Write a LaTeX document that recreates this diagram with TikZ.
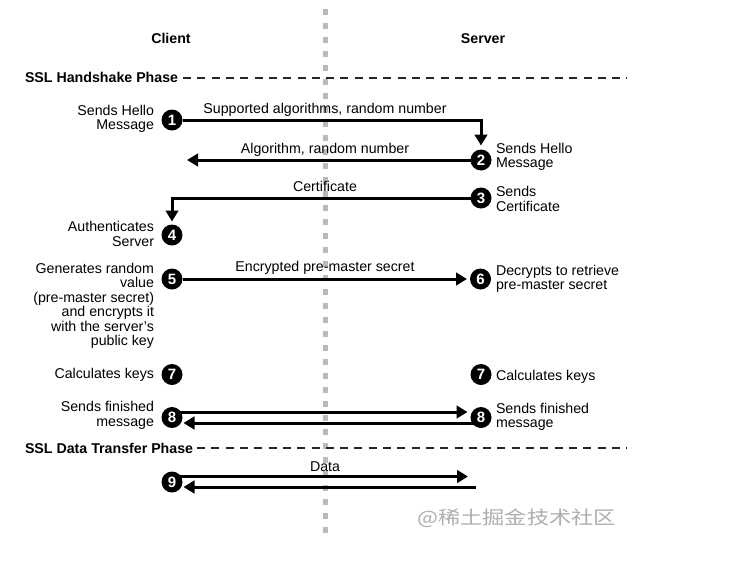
\documentclass[tikz,border=0pt]{standalone}
\usepackage{fontspec}
\setmainfont{Liberation Sans}
\newfontfamily\cjk{Noto Sans CJK SC}
\usetikzlibrary{arrows.meta,backgrounds}
\begin{document}
\begin{tikzpicture}[x=1pt,y=-1pt,
  num/.style={circle,fill=black,text=white,minimum size=21pt,inner sep=0pt,outer sep=0pt,
    font=\fontsize{15}{15}\selectfont\bfseries},
  txt/.style={inner sep=0pt,outer sep=0pt,font=\fontsize{14.2}{14.4}\selectfont},
  lt/.style={txt,align=right,anchor=north east},
  rt/.style={txt,align=left,anchor=north west},
  lbl/.style={txt,anchor=north},
  hdr/.style={inner sep=0pt,outer sep=0pt,font=\fontsize{14.2}{14.4}\selectfont\bfseries},
  arr/.style={line width=3pt,-{Triangle[length=11pt,width=12.5pt]}},
  phase/.style={line width=1.6pt,color=black!85,dash pattern=on 8pt off 6.3pt},
  axisline/.style={line width=5pt,color=black!27,dash pattern=on 6pt off 8pt}]
\useasboundingbox (0,0) rectangle (741,565);

% headers
\node[hdr,anchor=north] (client) at (171,33.3) {Client};
\node[hdr,anchor=north] (server) at (483,33.3) {Server};
\node[hdr,anchor=north west] (ph1) at (25,72.7) {SSL Handshake Phase};
\node[hdr,anchor=north west] (ph2) at (25,443) {SSL Data Transfer Phase};
\coordinate (pend) at (627,0);
\coordinate (axtop) at (325,9);
\coordinate (axbot) at (325,538);

% step circles
\node[num] (c1) at (172,120) {1};
\node[num] (c2) at (481,160) {2};
\node[num] (c3) at (481,198) {3};
\node[num] (c4) at (172,235) {4};
\node[num] (c5) at (172,279) {5};
\node[num] (c6) at (480.5,279) {6};
\node[num] (c7l) at (172,374.5) {7};
\node[num] (c7r) at (481,374.5) {7};
\node[num] (c8l) at (172,417.5) {8};
\node[num] (c8r) at (481,417.5) {8};
\node[num] (c9) at (172,482) {9};

\coordinate (a2) at (187,160);
\coordinate (d1) at (468,476.5);
\coordinate (d2) at (476,487);

% side texts
\node[lt] (t1) at (154,105) {Sends Hello\\Message};
\node[rt] (t2) at (496,143.3) {Sends Hello\\Message};
\node[rt] (t3) at (496,186.7) {Sends\\Certificate};
\node[lt] (t4) at (154,221.7) {Authenticates\\Server};
\node[lt] (t5) at (154,263.3) {Generates random\\value\\(pre-master secret)\\and encrypts it\\with the server's\\public key};
\node[rt] (t6) at (496,265) {Decrypts to retrieve\\pre-master secret};
\node[lt] (t7l) at (154,368.3) {Calculates keys};
\node[rt] (t7r) at (496,370) {Calculates keys};
\node[lt] (t8l) at (154,401.7) {Sends finished\\message};
\node[rt] (t8r) at (496,403.3) {Sends finished\\message};

% connector labels
\node[lbl] (l1) at (325,103.3) {Supported algorithms, random number};
\node[lbl] (l2) at (325,143.3) {Algorithm, random number};
\node[lbl] (l3) at (325,181.7) {Certificate};
\node[lbl] (l5) at (325,261.7) {Encrypted pre-master secret};
\node[lbl] (l9) at (325,461.7) {Data};

% watermark
\node[inner sep=0pt,anchor=north west,text=black!32,font=\cjk\fontsize{18.5}{18.5}\selectfont,xscale=1.2,transform shape] (wm) at (417,508.5) {@稀土掘金技术社区};

\begin{pgfonlayer}{background}
  \draw[axisline] (axtop) -- (axbot);
  \draw[phase] ([xshift=5pt]ph1.east) -- (ph1.east -| pend);
  \draw[phase] ([xshift=4pt]ph2.east) -- (ph2.east -| pend);
  \draw[arr,shorten >=4pt] (c1) -| (c2);
  \draw[arr] (c2) -- (a2);
  \draw[arr,shorten >=3pt] (c3) -| (c4);
  \draw[arr,shorten >=3pt] (c5) -- (c6);
  \draw[arr,shorten >=3pt] ([yshift=5.5pt]c8l.center) -- ([yshift=5.5pt]c8r.west);
  \draw[arr,shorten >=1pt] ([yshift=-5.5pt]c8r.center) -- ([yshift=-5.5pt]c8l.east);
  \draw[arr] ([yshift=5.5pt]c9.center) -- (d1);
  \draw[arr,shorten >=1pt] (d2) -- ([yshift=-5pt]c9.east);
\end{pgfonlayer}
\end{tikzpicture}
\end{document}
